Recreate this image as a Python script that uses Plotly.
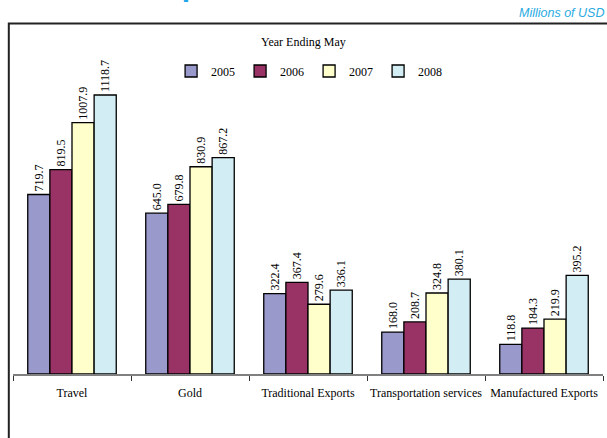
import plotly.graph_objects as go

categories = ["Travel", "Gold", "Traditional Exports", "Transportation services", "Manufactured Exports"]
years = ["2005", "2006", "2007", "2008"]
v2005 = [719.7, 645.0, 322.4, 168.0, 118.8]
v2006 = [819.5, 679.8, 367.4, 208.7, 184.3]
v2007 = [1007.9, 830.9, 279.6, 324.8, 219.9]
v2008 = [1118.7, 867.2, 336.1, 380.1, 395.2]
series = [v2005, v2006, v2007, v2008]
colors = ["#9999CC", "#993366", "#FFFFCC", "#D2EDF3"]

W, H = 607, 438
L, R, T, B = 12.7, 3.5, 40, 64
pw = W - L - R
ph = H - T - B

def px(x):
    return (x - L) / pw

def py(y):
    return (H - B - y) / ph

fig = go.Figure()
for name, vals, col in zip(years, series, colors):
    fig.add_trace(go.Bar(
        x=categories, y=vals, name=name,
        marker=dict(color=col, line=dict(color="#000000", width=1.3)),
        texttemplate="%{y:.1f}", textposition="outside", textangle=-90,
        constraintext="none",
        textfont=dict(family="Liberation Serif", size=12, color="#000000"),
        cliponaxis=False,
    ))

fig.update_layout(
    width=W, height=H,
    margin=dict(l=L, r=R, t=T, b=B, autoexpand=False),
    paper_bgcolor="white", plot_bgcolor="white",
    barmode="group", bargap=0.25, bargroupgap=0,
    font=dict(family="Liberation Serif", size=12, color="#000000"),
    showlegend=True,
    legend=dict(orientation="h", x=px(171), y=py(71), xanchor="left", yanchor="middle",
                font=dict(family="Liberation Serif", size=12, color="#000000"),
                itemwidth=30, bgcolor="rgba(0,0,0,0)", traceorder="normal"),
    xaxis=dict(type="category", showline=True, linecolor="#808080", linewidth=2,
               ticks="outside", tickson="boundaries", ticklen=5, tickcolor="#333333",
               tickwidth=1, showgrid=False, zeroline=False, tickangle=0, automargin=False,
               ticklabelstandoff=7,
               tickfont=dict(family="Liberation Serif", size=12, color="#000000")),
    yaxis=dict(range=[0, ph / 0.2494], visible=False, showgrid=False, zeroline=False),
)

fig.add_shape(type="rect", xref="paper", yref="paper",
              x0=px(8.5), x1=px(640), y0=py(470), y1=py(23.5),
              line=dict(color="#222222", width=2), fillcolor="rgba(0,0,0,0)", layer="above")

fig.add_annotation(text="Year Ending May", xref="paper", yref="paper",
                   x=px(304), y=py(42), xanchor="center", yanchor="middle", showarrow=False,
                   font=dict(family="Liberation Serif", size=12, color="#000000"))
fig.add_annotation(text="<i>Millions of USD</i>", xref="paper", yref="paper",
                   x=px(607), y=py(13), xanchor="right", yanchor="middle", showarrow=False,
                   font=dict(family="Liberation Sans", size=12.5, color="#29ABE2"))
fig.add_annotation(text="<b>Exports of Services</b>", xref="paper", yref="paper",
                   x=px(143), y=py(4), xanchor="left", yanchor="bottom", showarrow=False,
                   font=dict(family="Liberation Sans", size=30, color="#1EA7E8"))

fig.write_html("out.html")
